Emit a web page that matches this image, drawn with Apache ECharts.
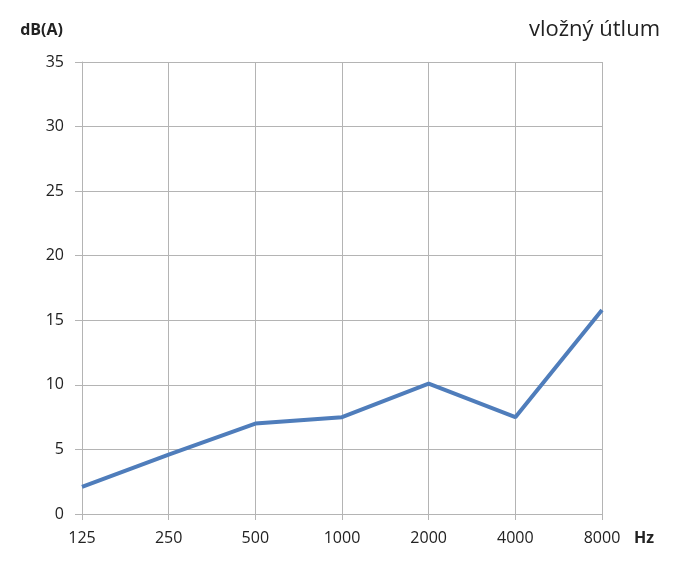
<!DOCTYPE html>
<html>
<head>
<meta charset="utf-8">
<script src="https://cdn.jsdelivr.net/npm/echarts@6/dist/echarts.min.js"></script>
<style>
  html, body { margin: 0; padding: 0; background: #fff; }
  #chart { width: 678px; height: 566px; }
</style>
</head>
<body>
<div id="chart"></div>
<script>
  var freqs = ['125', '250', '500', '1000', '2000', '4000', '8000'];
  var attenuation = [2.1, 4.6, 7.0, 7.5, 10.1, 7.5, 15.8];

  var gridColor = '#b4b4b4';
  var font = '"Open Sans", "Noto Sans", sans-serif';

  var chart = echarts.init(document.getElementById('chart'));
  chart.setOption({
    animation: false,
    textStyle: { fontFamily: font },
    title: {
      text: 'vložný útlum',
      right: 13,
      top: 14,
      textStyle: { fontSize: 22, fontWeight: 'normal', color: '#222', fontFamily: font }
    },
    grid: { left: 82, right: 76, top: 62, bottom: 52 },
    xAxis: {
      type: 'category',
      data: freqs,
      boundaryGap: false,
      name: 'Hz',
      nameLocation: 'end',
      nameGap: 32,
      nameTextStyle: { fontSize: 16, fontWeight: 'bold', color: '#222', verticalAlign: 'top', padding: [16, 0, 0, 0] },
      axisLine: { lineStyle: { color: gridColor, width: 1 } },
      axisTick: { show: true, length: 6, lineStyle: { color: gridColor } },
      axisLabel: { fontSize: 16, color: '#222', margin: 16 },
      splitLine: { show: true, lineStyle: { color: gridColor, width: 1 } }
    },
    yAxis: {
      type: 'value',
      min: 0,
      max: 35,
      interval: 5,
      name: 'dB(A)',
      nameLocation: 'end',
      nameGap: 24,
      nameTextStyle: { fontSize: 16, fontWeight: 'bold', color: '#222', align: 'right', padding: [0, 19, 0, 0] },
      axisLine: { show: true, lineStyle: { color: gridColor, width: 1 } },
      axisTick: { show: true, length: 7, lineStyle: { color: gridColor } },
      axisLabel: { fontSize: 16, color: '#222', margin: 18 },
      splitLine: { show: true, lineStyle: { color: gridColor, width: 1 } }
    },
    series: [{
      type: 'line',
      data: attenuation,
      symbol: 'none',
      lineStyle: { color: '#4f7dbb', width: 4 },
      itemStyle: { color: '#4f7dbb' }
    }]
  });
</script>
</body>
</html>
